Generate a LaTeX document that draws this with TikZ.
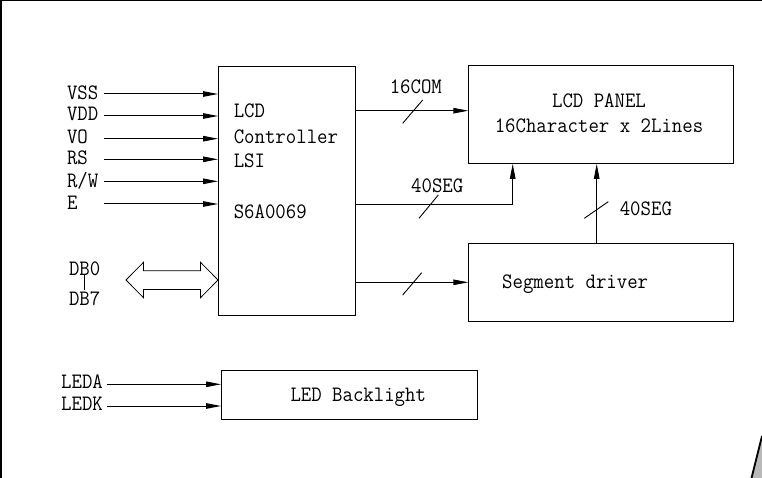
\documentclass[tikz,border=0pt]{standalone}
\usepackage{fontspec}
\setmonofont[FakeStretch=0.92]{Latin Modern Mono}
\usetikzlibrary{arrows.meta}
\newcommand{\fs}{\fontsize{22pt}{26pt}\ttfamily}
\begin{document}
\begin{tikzpicture}[x=1pt,y=-1pt, line width=1pt,
  box/.style={draw, line width=1.1pt, inner sep=0pt, anchor=north west},
  lbl/.style={anchor=base west, inner sep=0pt, font=\fs},
  arr/.style={-{Triangle[length=15pt,width=5.5pt]}},
  tick/.style={line width=0.9pt}]
\useasboundingbox (0,0) rectangle (762,478);
% frame
\draw[line width=1.5pt] (0,0.75) -- (762,0.75);
\draw[line width=1.5pt] (0.75,0) -- (0.75,478);
\fill[gray!55] (762,436) -- (751.5,478) -- (762,478) -- cycle;
\draw[line width=1.8pt] (762,436) -- (751.5,478);
% boxes
\node[box, minimum width=137pt, minimum height=249pt] (ctrl) at (218,66) {};
\node[box, minimum width=265pt, minimum height=97.7pt] (panel) at (468.3,65) {};
\node[box, minimum width=265pt, minimum height=77.7pt] (seg) at (468.3,243.3) {};
\node[box, minimum width=255.7pt, minimum height=49.3pt] (led) at (221,370) {};
% controller text
\node[lbl] (t1) at (233.3,117.7) {LCD};
\node[lbl] (t2) at (233.3,143.3) {Controller};
\node[lbl] (t3) at (233.3,167.3) {LSI};
\node[lbl] (t4) at (233.3,218.3) {S6A0069};
% panel text
\node[lbl, anchor=base] (p1) at (599,107.7) {LCD PANEL};
\node[lbl, anchor=base] (p2) at (599,132.7) {16Character x 2Lines};
\node[lbl] (sd) at (501.7,288.3) {Segment driver};
\node[lbl] (lb) at (290,401) {LED Backlight};
% input labels
\node[lbl] (lvss) at (66.5,99.5) {VSS};
\node[lbl] (lvdd) at (66.5,121) {VDD};
\node[lbl] (lvo) at (66.5,143.3) {VO};
\node[lbl] (lrs) at (66.5,165) {RS};
\node[lbl] (lrw) at (66.5,187.7) {R/W};
\node[lbl] (le) at (66.5,209.3) {E};
\node[lbl] (db0) at (68.5,275) {DB0};
\node[lbl] (db7) at (68.5,305) {DB7};
\node[lbl] (leda) at (60.7,388.3) {LEDA};
\node[lbl] (ledk) at (60.7,410) {LEDK};
% input arrows
\coordinate (ivss) at (104,94);
\coordinate (ivdd) at (104,116);
\coordinate (ivo) at (104,138.7);
\coordinate (irs) at (104,159.3);
\coordinate (irw) at (104,181.3);
\coordinate (ie) at (104,204);
\foreach \c in {ivss,ivdd,ivo,irs,irw,ie}
  \draw[arr] (\c) -- (\c -| ctrl.west);
\coordinate (ileda) at (106.7,384.3);
\coordinate (iledk) at (106.7,406);
\draw[arr] (ileda) -- (ileda -| led.west);
\draw[arr] (iledk) -- (iledk -| led.west);
% DB bar
\coordinate (dba) at (84.3,274);
\coordinate (dbb) at (84.3,290);
\draw (dba) -- (dbb);
% double arrow
\draw[line width=0.8pt] (126,280) -- (143.5,262.3) -- (143.5,270.8) -- (200.5,270.8) -- (200.5,262.3)
  -- (218,280) -- (200.5,297.7) -- (200.5,289.5) -- (143.5,289.5) -- (143.5,297.7) -- cycle;
% outputs
\coordinate (o1) at (355,110.7);
\draw[arr] (o1) -- (o1 -| panel.west);
\coordinate (o2) at (355,205);
\coordinate (o2b) at (512.7,205);
\draw[arr] (o2) -- (o2b) -- (o2b |- panel.south);
\coordinate (o3) at (355,282.3);
\draw[arr] (o3) -- (o3 -| seg.west);
\coordinate (s1) at (596.7,243.3);
\draw[arr] (s1) -- (s1 |- panel.south);
% ticks
\draw[tick] (402.7,123.3) -- (422.7,100);
\draw[tick] (419,218.3) -- (438.3,195);
\draw[tick] (402.7,295) -- (421.7,272.7);
\draw[tick] (584.3,218.3) -- (608.3,201.7);
% bus labels
\node[lbl] (l16) at (389.3,94) {16COM};
\node[lbl] (l40a) at (410.7,192.3) {40SEG};
\node[lbl] (l40b) at (619.3,215.7) {40SEG};
\end{tikzpicture}
\end{document}
